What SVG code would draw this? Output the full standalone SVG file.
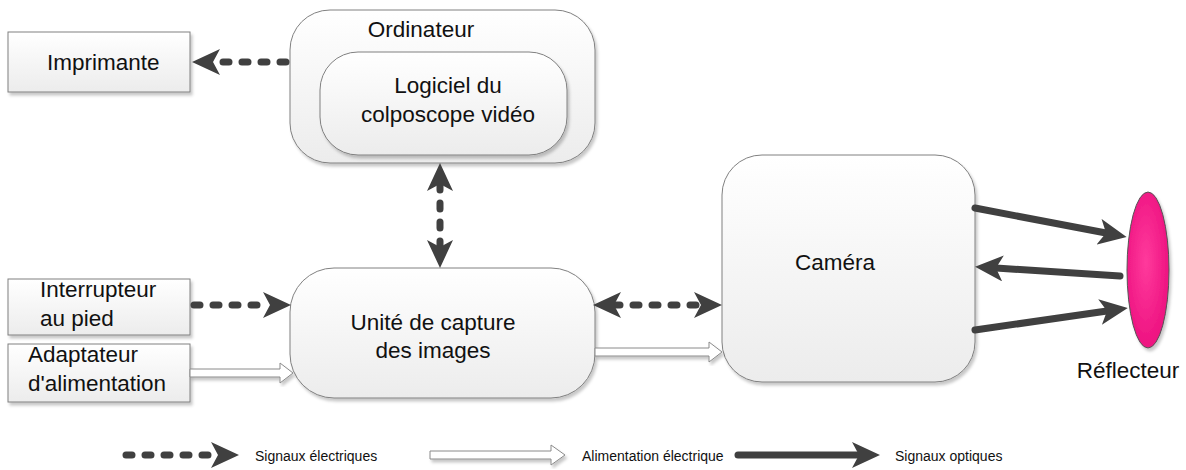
<svg xmlns="http://www.w3.org/2000/svg" width="1186" height="470" viewBox="0 0 1186 470">
  <defs>
    <linearGradient id="boxFill" x1="0" y1="0" x2="0" y2="1">
      <stop offset="0" stop-color="#ffffff"/>
      <stop offset="1" stop-color="#ececec"/>
    </linearGradient>
    <radialGradient id="pinkFill" cx="0.45" cy="0.45" r="0.6">
      <stop offset="0" stop-color="#ff3a9c"/>
      <stop offset="1" stop-color="#ec0f7e"/>
    </radialGradient>
    <filter id="shadow" x="-10%" y="-10%" width="130%" height="130%">
      <feDropShadow dx="2" dy="3" stdDeviation="1.5" flood-color="#000" flood-opacity="0.22"/>
    </filter>
    <!-- notched solid arrowhead; refX sits on the notch so the line ends inside the head -->
    <marker id="head" markerUnits="userSpaceOnUse" viewBox="0 0 28 26" markerWidth="28" markerHeight="26" refX="7" refY="13" orient="auto-start-reverse">
      <path d="M0,0 L28,13 L0,26 L7,13 Z" fill="#404040"/>
    </marker>
  </defs>
  <style>
    .box { fill: url(#boxFill); stroke: #808080; stroke-width: 1; filter: url(#shadow); }
    .lbl { font-family: "Liberation Sans", Arial, sans-serif; font-size: 22.5px; fill: #111; }
    .mid { text-anchor: middle; }
    .leg { font-family: "Liberation Sans", Arial, sans-serif; font-size: 14px; fill: #111; }
    .elec { fill: none; stroke: #404040; stroke-width: 7; stroke-linecap: round; stroke-dasharray: 6 13; }
    .opt { fill: none; stroke: #404040; stroke-width: 7; stroke-linecap: round; }
    .power { fill: #ffffff; stroke: #8a8a8a; stroke-width: 1; filter: url(#shadow); }
  </style>

  <!-- nodes -->
  <g id="imprimante">
    <rect class="box" x="8" y="32" width="182" height="60"/>
    <text class="lbl" x="47" y="70">Imprimante</text>
  </g>

  <g id="ordinateur">
    <rect class="box" x="290" y="10" width="305" height="153" rx="40"/>
    <text class="lbl mid" x="421" y="37">Ordinateur</text>
  </g>

  <g id="logiciel">
    <rect class="box" x="320" y="52" width="247" height="103" rx="38"/>
    <text class="lbl mid" x="448" y="93">Logiciel du</text>
    <text class="lbl mid" x="448" y="122">colposcope vidéo</text>
  </g>

  <g id="interrupteur">
    <rect class="box" x="8" y="279" width="182" height="56"/>
    <text class="lbl" x="40" y="297">Interrupteur</text>
    <text class="lbl" x="40" y="326">au pied</text>
  </g>

  <g id="adaptateur">
    <rect class="box" x="8" y="344" width="182" height="58"/>
    <text class="lbl" x="28" y="362">Adaptateur</text>
    <text class="lbl" x="28" y="391">d'alimentation</text>
  </g>

  <g id="unite">
    <rect class="box" x="290" y="268" width="305" height="130" rx="44"/>
    <text class="lbl mid" x="433" y="330">Unité de capture</text>
    <text class="lbl mid" x="433" y="358">des images</text>
  </g>

  <g id="camera">
    <rect class="box" x="722" y="155" width="253" height="227" rx="40"/>
    <text class="lbl mid" x="835" y="270">Caméra</text>
  </g>

  <g id="reflecteur">
    <ellipse cx="1148" cy="270" rx="21" ry="78" fill="url(#pinkFill)" stroke="#555" stroke-width="1" filter="url(#shadow)"/>
    <text class="lbl mid" x="1128" y="378">Réflecteur</text>
  </g>

  <!-- connectors -->
  <g id="connectors">
    <!-- electrical signals -->
    <line class="elec" x1="286" y1="62" x2="213" y2="62" marker-end="url(#head)"/>
    <line class="elec" x1="440" y1="184" x2="440" y2="247" marker-start="url(#head)" marker-end="url(#head)"/>
    <line class="elec" x1="194" y1="305" x2="270" y2="305" marker-end="url(#head)"/>
    <line class="elec" x1="614" y1="305" x2="701" y2="305" marker-start="url(#head)" marker-end="url(#head)"/>

    <!-- power supply -->
    <polygon class="power" points="190,369 280,369 280,363 293,373 280,383 280,377 190,377"/>
    <polygon class="power" points="595,348 709,348 709,342 722,352 709,362 709,356 595,356"/>

    <!-- optical signals -->
    <line class="opt" x1="975" y1="208" x2="1106" y2="233" marker-end="url(#head)"/>
    <line class="opt" x1="1120" y1="276" x2="996" y2="268" marker-end="url(#head)"/>
    <line class="opt" x1="975" y1="330" x2="1107" y2="311" marker-end="url(#head)"/>
  </g>

  <!-- legend -->
  <g id="legend">
    <line class="elec" x1="126" y1="455" x2="218" y2="455" marker-end="url(#head)"/>
    <text class="leg" x="255" y="461">Signaux électriques</text>
    <polygon class="power" points="430,451 551,451 551,445 565,455 551,465 551,459 430,459"/>
    <text class="leg" x="582" y="461">Alimentation électrique</text>
    <line class="opt" x1="738" y1="455" x2="859" y2="455" marker-end="url(#head)"/>
    <text class="leg" x="895" y="461">Signaux optiques</text>
  </g>
</svg>
